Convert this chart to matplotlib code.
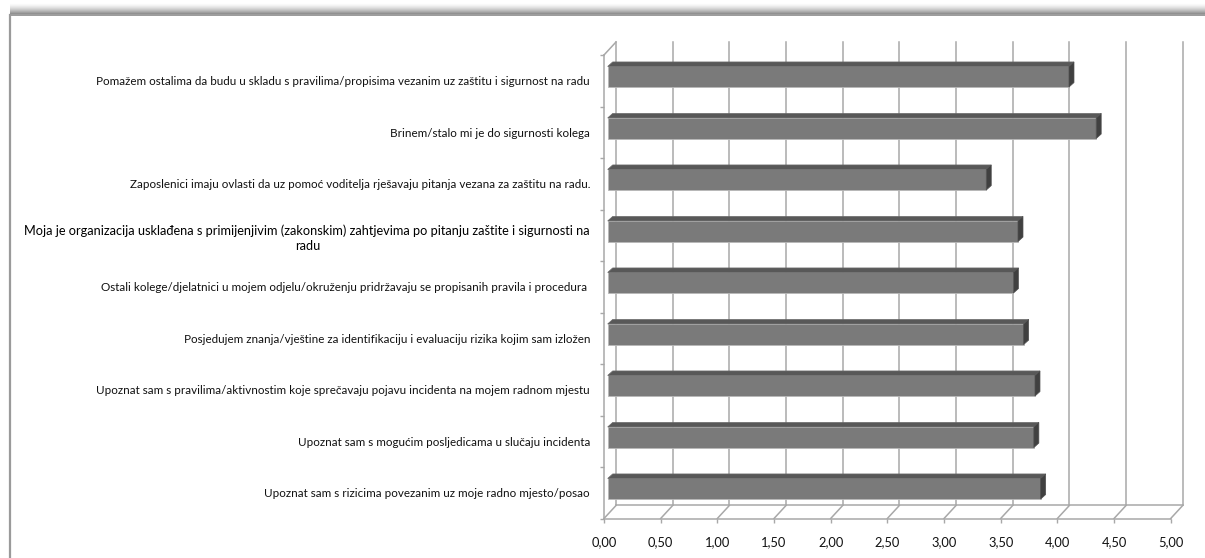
import numpy as np
import matplotlib
matplotlib.use("Agg")
import matplotlib.pyplot as plt
from matplotlib import font_manager as fm
from matplotlib.colors import LinearSegmentedColormap
from matplotlib.patches import Polygon

# ── data ────────────────────────────────────────────────
labels = [
    'Pomažem ostalima da budu u skladu s pravilima/propisima vezanim uz zaštitu i sigurnost na radu',
    'Brinem/stalo mi je do sigurnosti kolega',
    'Zaposlenici imaju ovlasti da uz pomoć voditelja rješavaju pitanja vezana za zaštitu na radu.',
    'Moja je organizacija usklađena s primijenjivim (zakonskim) zahtjevima po pitanju zaštite i sigurnosti na\nradu',
    'Ostali kolege/djelatnici u mojem odjelu/okruženju pridržavaju se propisanih pravila i procedura ',
    'Posjedujem znanja/vještine za identifikaciju i evaluaciju rizika kojim sam izložen',
    'Upoznat sam s pravilima/aktivnostim koje sprečavaju pojavu incidenta na mojem radnom mjestu',
    'Upoznat sam s mogućim posljedicama u slučaju incidenta',
    'Upoznat sam s rizicima povezanim uz moje radno mjesto/posao',
]
values = [4.07, 4.31, 3.34, 3.62, 3.58, 3.67, 3.77, 3.76, 3.82]
xticks = np.arange(0, 5.01, 0.5)
xtick_labels = [f'{v:.2f}'.replace('.', ',') for v in xticks]

GRID = '#a8a8a8'
W, H = 1205, 558
fig = plt.figure(figsize=(W / 100, H / 100), dpi=100, facecolor='white')
renderer = fig.canvas.get_renderer()


# ── font: narrowest installed face, sized to the label widths ──
def installed(name):
    try:
        fm.findfont(fm.FontProperties(family=name), fallback_to_default=False)
        return True
    except ValueError:
        return False


def text_width(s, family, size):
    t = fig.text(0, 0, s, family=[family, 'DejaVu Sans'], fontsize=size)
    w = t.get_window_extent(renderer).width
    t.remove()
    return w


cands = [f for f in ['Liberation Sans Narrow', 'Lato', 'Roboto', 'Liberation Sans', 'DejaVu Sans']
         if installed(f)]
widths = {f: text_width(labels[0], f, 10) for f in cands}
family = min(widths, key=widths.get)
FONT = [family, 'DejaVu Sans']
size_lab = 10 * 492 / widths[family]
size_lab4 = 10 * 568 / text_width(labels[3].split('\n')[0], family, 10)
size_tick = size_lab * 1.1

# ── chart frame (top edge with shadow, left edge) ──────
bg = fig.add_axes([0, 0, 1, 1])
bg.set_xlim(0, W)
bg.set_ylim(H, 0)
bg.axis('off')
shade_cmap = LinearSegmentedColormap.from_list('shade', ['#ffffff', '#8c8c8c'])
bg.imshow(np.linspace(0, 1, 30)[:, None] ** 1.5, cmap=shade_cmap, aspect='auto',
          extent=[10, W, 14, 3], origin='upper', interpolation='bilinear')
bg.plot([10, W], [14.5, 14.5], color='#8a8a8a', lw=1.2)
bg.plot([10, 10], [14.5, H], color='#9a9a9a', lw=1.6)

# ── plot area: front plane of the 3D floor ─────────────
n = len(values)
L, R, T, B = 604, 1170.7, 55, 518.5
ax = fig.add_axes([L / W, (H - B) / H, (R - L) / W, (B - T) / H])
ax.set_xlim(0, 5)
ax.set_ylim(n - 0.5, -0.5)
ax.patch.set_alpha(0)
for s in ax.spines.values():
    s.set_visible(False)

ux = (R - L) / 5      # px per value unit
uy = (B - T) / n      # px per category
DX, DY = 12 / ux, 13 / uy        # wall depth
FX, FY = 3.7 / ux, 4 / uy        # bar front offset from front plane
BX, BY = 5 / ux, 4.5 / uy        # bar depth
bot = n - 0.5
top = -0.5

# back wall gridlines + floor
for v in xticks:
    ax.plot([v + DX, v + DX], [bot - DY, top - DY], color=GRID, lw=1.1, zorder=1, clip_on=False)
    ax.plot([v, v + DX], [bot, bot - DY], color=GRID, lw=1.1, zorder=1, clip_on=False)
ax.plot([DX, 5 + DX], [bot - DY, bot - DY], color=GRID, lw=1.1, zorder=1, clip_on=False)
ax.plot([0, 5], [bot, bot], color=GRID, lw=1.1, zorder=1, clip_on=False)
# left wall
ax.plot([0, 0], [bot, top], color=GRID, lw=1.1, zorder=1, clip_on=False)
ax.plot([0, DX], [top, top - DY], color=GRID, lw=1.1, zorder=1, clip_on=False)

# bars: front face, top face, end cap
ypos = np.arange(n) - FY
ax.barh(ypos, values, left=FX, height=0.4, color='#7a7a7a',
        edgecolor='#b8b8b8', linewidth=0.6, zorder=3)
for y, v in zip(ypos, values):
    yt, yb = y - 0.2, y + 0.2
    x1 = FX + v
    ax.add_patch(Polygon([(FX, yt), (x1, yt), (x1 + BX, yt - BY), (FX + BX, yt - BY)],
                         closed=True, facecolor='#585858', edgecolor='#6a6a6a',
                         lw=0.5, zorder=4, clip_on=False))
    ax.add_patch(Polygon([(x1, yt), (x1 + BX, yt - BY), (x1 + BX, yb - BY), (x1, yb)],
                         closed=True, facecolor='#404040', edgecolor='#505050',
                         lw=0.5, zorder=4, clip_on=False))

# category labels and boundary ticks
ax.set_yticks(range(n))
ax.set_yticklabels(labels, fontsize=size_lab, family=FONT, color='#111111')
ax.set_yticks(np.arange(-0.5, n), minor=True)
ax.tick_params(axis='y', which='major', length=0, pad=10)
ax.tick_params(axis='y', which='minor', length=3, width=1.0, color=GRID, direction='out')
lab4 = ax.get_yticklabels()[3]
lab4.set_fontsize(size_lab4)
lab4.set_color('black')
lab4.set_multialignment('center')
lab4.set_linespacing(1.35)

# value axis
ax.set_xticks(xticks, xtick_labels, fontsize=size_tick, family=FONT, color='#111111')
ax.tick_params(axis='x', which='major', length=3, width=1.0, color=GRID, pad=10)

fig.savefig('out.png', dpi=100, facecolor='white')
